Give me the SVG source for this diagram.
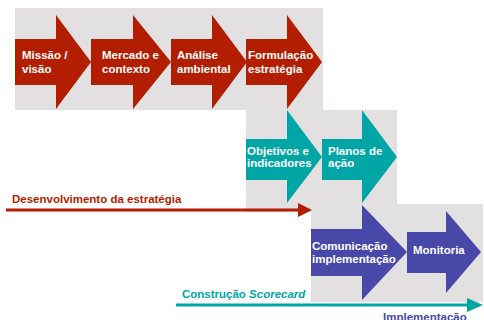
<svg xmlns="http://www.w3.org/2000/svg" width="484" height="320" viewBox="0 0 484 320">
<style>
.bg{fill:#E2E0E0}
.red{fill:#B31D00}
.teal{fill:#00A6A6}
.blue{fill:#4848A8}
.lbl{font-family:"Liberation Sans",Arial,sans-serif;font-weight:bold;font-size:11.5px;fill:#FFFFFF}
.cap{font-family:"Liberation Sans",Arial,sans-serif;font-weight:bold;font-size:11.5px}
</style>
<rect width="484" height="320" fill="#FFFFFF"/>
<g id="background">
<rect class="bg" x="15" y="8" width="308" height="102"/>
<rect class="bg" x="246" y="110" width="151" height="102"/>
<rect class="bg" x="311" y="204" width="172" height="98"/>
</g>
<g id="missao">
<polygon class="red" points="15,39 56,39 56,15 91,62 56,109 56,85 15,85"/>
<text class="lbl" x="22" y="58.5">Missão /</text>
<text class="lbl" x="22" y="72.5">visão</text>
</g>
<g id="mercado">
<polygon class="red" points="91,39 133,39 133,15 171,62 133,109 133,85 91,85"/>
<text class="lbl" x="102" y="58.5">Mercado e</text>
<text class="lbl" x="102" y="72.5">contexto</text>
</g>
<g id="analise">
<polygon class="red" points="171,39 212,39 212,15 247,62 212,109 212,85 171,85"/>
<text class="lbl" x="177" y="58.5">Análise</text>
<text class="lbl" x="177" y="72.5">ambiental</text>
</g>
<g id="formulacao">
<polygon class="red" points="246,39 287,39 287,15 322,62 287,109 287,85 246,85"/>
<text class="lbl" x="248" y="58.5">Formulação</text>
<text class="lbl" x="248" y="72.5">estratégia</text>
</g>
<g id="objetivos">
<polygon class="teal" points="246,139 287,139 287,110 322,157 287,203 287,180 246,180"/>
<text class="lbl" x="247" y="155">Objetivos e</text>
<text class="lbl" x="247" y="167">indicadores</text>
</g>
<g id="planos">
<polygon class="teal" points="322,139 362,139 362,110 397,157 362,203 362,180 322,180"/>
<text class="lbl" x="328" y="155">Planos de</text>
<text class="lbl" x="328" y="167">ação</text>
</g>
<g id="comunicacao">
<polygon class="blue" points="311,229 362,229 362,205 407,252 362,300 362,276 311,276"/>
<text class="lbl" x="312" y="250">Comunicação</text>
<text class="lbl" x="312" y="263">implementação</text>
</g>
<g id="monitoria">
<polygon class="blue" points="407,232 446,232 446,211 481,252 446,293 446,273 407,273"/>
<text class="lbl" x="413" y="254">Monitoria</text>
</g>
<g id="connectors">
<line x1="6" y1="210" x2="300" y2="210" stroke="#B31D00" stroke-width="3"/>
<polygon class="red" points="298,203 312,210 298,217"/>
<line x1="176" y1="305" x2="469" y2="305" stroke="#00A6A6" stroke-width="3"/>
<polygon class="teal" points="467,298 483,305 467,312"/>
</g>
<g id="labels">
<text class="cap" x="12" y="203" fill="#B31D00">Desenvolvimento da estratégia</text>
<text class="cap" x="182" y="298" fill="#00A6A6">Construção <tspan font-style="italic">Scorecard</tspan></text>
<text class="cap" x="383" y="321" fill="#4848A8">Implementação</text>
</g>
</svg>
